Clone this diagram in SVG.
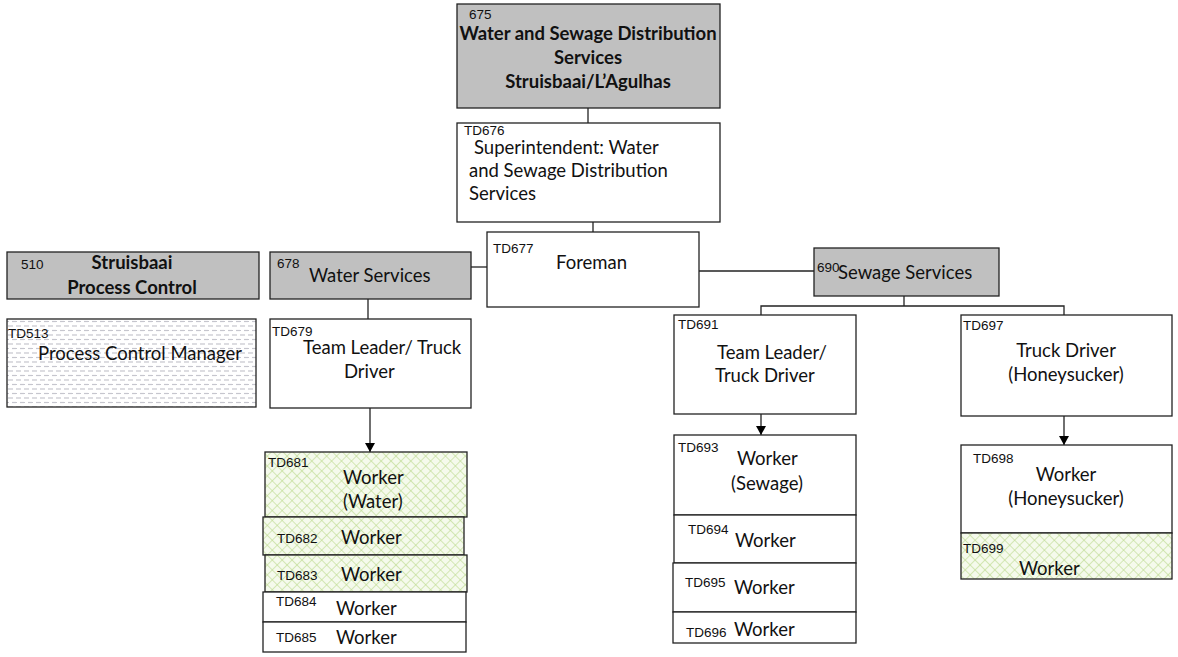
<svg xmlns="http://www.w3.org/2000/svg" width="1178" height="657" viewBox="0 0 1178 657">
  <defs>
    <pattern id="hatch" width="7" height="7" patternUnits="userSpaceOnUse" patternTransform="rotate(45)">
      <rect width="7" height="7" fill="#f5faec"/>
      <line x1="0" y1="0" x2="0" y2="7" stroke="#bcda8e" stroke-width="1.2"/>
      <line x1="0" y1="0" x2="7" y2="0" stroke="#bcda8e" stroke-width="1.2"/>
    </pattern>
    <pattern id="dashes" width="8" height="9" patternUnits="userSpaceOnUse">
      <rect width="8" height="9" fill="#ffffff"/>
      <line x1="0" y1="2" x2="5" y2="2" stroke="#c6c6ce" stroke-width="1.2"/>
      <line x1="4" y1="6.5" x2="8" y2="6.5" stroke="#c6c6ce" stroke-width="1.2"/>
      <line x1="0" y1="6.5" x2="1" y2="6.5" stroke="#c6c6ce" stroke-width="1.2"/>
    </pattern>
    <marker id="arrow" markerWidth="10" markerHeight="10" refX="9" refY="5" orient="auto" markerUnits="userSpaceOnUse">
      <path d="M0,0 L9,5 L0,10 Z" fill="#000"/>
    </marker>
  </defs>
  <style>
    .box { stroke: #222; stroke-width: 1.3; }
    .unit { fill: #c0c0c0; }
    .post { fill: #ffffff; }
    .hatched { fill: url(#hatch); }
    .dashed { fill: url(#dashes); }
    .code { font-family: "Liberation Sans", Arial, sans-serif; font-size: 13.5px; fill: #111; }
    .t { font-family: Lato, "Open Sans", sans-serif; font-size: 18.5px; fill: #111; }
    .b { font-family: Lato, "Open Sans", sans-serif; font-size: 18.5px; font-weight: bold; fill: #111; }
    .c { text-anchor: middle; }
    .conn line, .conn polyline { stroke: #222; stroke-width: 1.3; fill: none; }
  </style>

  <rect width="1178" height="657" fill="#ffffff"/>

  <!-- connectors -->
  <g id="connectors" class="conn">
    <line x1="588" y1="108" x2="588" y2="123"/>
    <line x1="593" y1="222" x2="593" y2="232"/>
    <line x1="471" y1="267" x2="492" y2="267"/>
    <line x1="699" y1="271" x2="814" y2="271"/>
    <line x1="368" y1="299" x2="368" y2="319"/>
    <line x1="370" y1="408" x2="370" y2="452" marker-end="url(#arrow)"/>
    <polyline points="904,296 904,306"/>
    <polyline points="761,315 761,306 1064,306 1064,315"/>
    <line x1="761" y1="414" x2="761" y2="435" marker-end="url(#arrow)"/>
    <line x1="1064" y1="416" x2="1064" y2="445" marker-end="url(#arrow)"/>
  </g>

  <g id="n675">
    <rect class="box unit" x="457" y="4" width="263" height="104"/>
    <text class="code" x="469" y="19">675</text>
    <text class="b c" x="588" y="40">Water and Sewage Distribution</text>
    <text class="b c" x="588" y="64">Services</text>
    <text class="b c" x="588" y="88">Struisbaai/L’Agulhas</text>
  </g>

  <g id="TD676">
    <rect class="box post" x="457" y="123" width="263" height="99"/>
    <text class="code" x="464" y="135">TD676</text>
    <text class="t" x="474" y="154">Superintendent: Water</text>
    <text class="t" x="469" y="177">and Sewage Distribution</text>
    <text class="t" x="469" y="200">Services</text>
  </g>

  <g id="TD677">
    <rect class="box post" x="487" y="232" width="212" height="75"/>
    <text class="code" x="493" y="253">TD677</text>
    <text class="t" x="556" y="269">Foreman</text>
  </g>

  <g id="n690">
    <rect class="box unit" x="814" y="248" width="185" height="48"/>
    <text class="code" x="817" y="272">690</text>
    <text class="t" x="838" y="279">Sewage Services</text>
  </g>

  <g id="n678">
    <rect class="box unit" x="270" y="252" width="201" height="47"/>
    <text class="code" x="277" y="268">678</text>
    <text class="t" x="309" y="282">Water Services</text>
  </g>

  <g id="n510">
    <rect class="box unit" x="7" y="252" width="252" height="47"/>
    <text class="code" x="21" y="269">510</text>
    <text class="b c" x="132" y="269">Struisbaai</text>
    <text class="b c" x="132" y="294">Process Control</text>
  </g>

  <g id="TD513">
    <rect class="box dashed" x="7" y="319" width="249" height="88"/>
    <text class="code" x="8" y="338">TD513</text>
    <text class="t" x="38" y="360">Process Control Manager</text>
  </g>

  <g id="TD679">
    <rect class="box post" x="270" y="319" width="201" height="89"/>
    <text class="code" x="272" y="336">TD679</text>
    <text class="t" x="303" y="354">Team Leader/ Truck</text>
    <text class="t" x="344" y="378">Driver</text>
  </g>

  <g id="TD681">
    <rect class="box hatched" x="265" y="452" width="202" height="65"/>
    <text class="code" x="268" y="467">TD681</text>
    <text class="t" x="343" y="484">Worker</text>
    <text class="t" x="343" y="508">(Water)</text>
  </g>
  <g id="TD682">
    <rect class="box hatched" x="263" y="517" width="201" height="38"/>
    <text class="code" x="277" y="543">TD682</text>
    <text class="t" x="341" y="544">Worker</text>
  </g>
  <g id="TD683">
    <rect class="box hatched" x="265" y="555" width="202" height="37"/>
    <text class="code" x="277" y="580">TD683</text>
    <text class="t" x="341" y="581">Worker</text>
  </g>
  <g id="TD684">
    <rect class="box post" x="263" y="592" width="203" height="30"/>
    <text class="code" x="276" y="606">TD684</text>
    <text class="t" x="336" y="615">Worker</text>
  </g>
  <g id="TD685">
    <rect class="box post" x="263" y="622" width="203" height="30"/>
    <text class="code" x="276" y="642">TD685</text>
    <text class="t" x="336" y="644">Worker</text>
  </g>

  <g id="TD691">
    <rect class="box post" x="674" y="315" width="182" height="99"/>
    <text class="code" x="678" y="329">TD691</text>
    <text class="t" x="717" y="359">Team Leader/</text>
    <text class="t" x="715" y="382">Truck Driver</text>
  </g>
  <g id="TD693">
    <rect class="box post" x="674" y="435" width="182" height="80"/>
    <text class="code" x="678" y="452">TD693</text>
    <text class="t" x="737" y="465">Worker</text>
    <text class="t" x="731" y="490">(Sewage)</text>
  </g>
  <g id="TD694">
    <rect class="box post" x="674" y="515" width="182" height="48"/>
    <text class="code" x="688" y="534">TD694</text>
    <text class="t" x="735" y="547">Worker</text>
  </g>
  <g id="TD695">
    <rect class="box post" x="673" y="563" width="183" height="49"/>
    <text class="code" x="685" y="587">TD695</text>
    <text class="t" x="734" y="594">Worker</text>
  </g>
  <g id="TD696">
    <rect class="box post" x="673" y="612" width="183" height="31"/>
    <text class="code" x="686" y="637">TD696</text>
    <text class="t" x="734" y="636">Worker</text>
  </g>

  <g id="TD697">
    <rect class="box post" x="961" y="315" width="211" height="101"/>
    <text class="code" x="963" y="330">TD697</text>
    <text class="t c" x="1066" y="357">Truck Driver</text>
    <text class="t c" x="1066" y="381">(Honeysucker)</text>
  </g>
  <g id="TD698">
    <rect class="box post" x="961" y="445" width="211" height="88"/>
    <text class="code" x="973" y="463">TD698</text>
    <text class="t c" x="1066" y="481">Worker</text>
    <text class="t c" x="1066" y="505">(Honeysucker)</text>
  </g>
  <g id="TD699">
    <rect class="box hatched" x="961" y="533" width="211" height="46"/>
    <text class="code" x="963" y="553">TD699</text>
    <text class="t" x="1019" y="575">Worker</text>
  </g>
</svg>
